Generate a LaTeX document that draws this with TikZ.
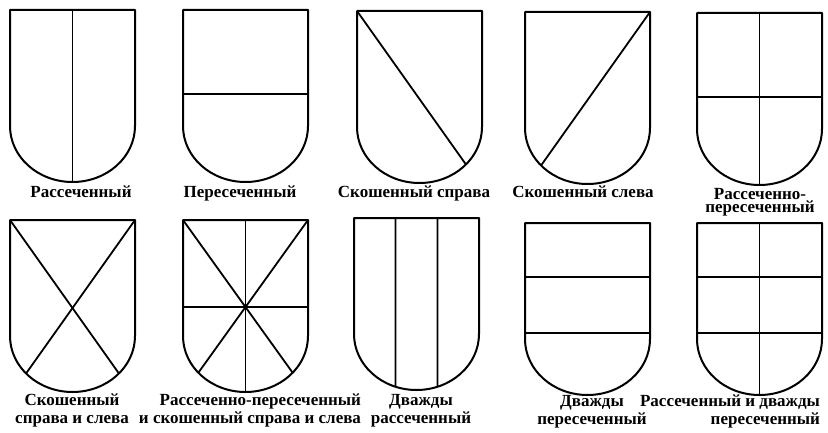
\documentclass[tikz,border=0pt]{standalone}
\usepackage{fontspec}
\setmainfont{Liberation Serif}
\tikzset{
  shield/.style={line width=2pt, line join=round},
  division/.style={line width=1.8pt},
  shieldname/.style={font=\bfseries\fontsize{17}{18}\selectfont, inner sep=0pt, anchor=base},
}
% outline of one shield, top left corner at (0,0)
\newcommand{\shield}{\draw[shield] (0,0) -- (0,-116) arc[start angle=180,end angle=360,x radius=62.5pt,y radius=56pt] -- (125,0) -- cycle;}
\begin{document}
\begin{tikzpicture}[x=1pt,y=1pt]
  \useasboundingbox (0,0) rectangle (828,432);
  % Рассеченный
  \begin{scope}[shift={(10,422)}]
    \shield
    \draw[division] (62.5,0) -- (62.5,-172);
  \end{scope}
  \node[shieldname] (rass) at (81,234) {Рассеченный};
  % Пересеченный
  \begin{scope}[shift={(183,422)}]
    \shield
    \draw[division] (0,-84) -- (125,-84);
  \end{scope}
  \node[shieldname] (peres) at (240,234) {Пересеченный};
  % Скошенный справа
  \begin{scope}[shift={(357,421)}]
    \shield
    \draw[division] (0,0) -- ([shift={(-42:62.5 and 56)}]62.5,-116);
  \end{scope}
  \node[shieldname] (skosh-r) at (414,234) {Скошенный справа};
  % Скошенный слева
  \begin{scope}[shift={(525,420)}]
    \shield
    \draw[division] (125,0) -- ([shift={(-138:62.5 and 56)}]62.5,-116);
  \end{scope}
  \node[shieldname] (skosh-l) at (583,234) {Скошенный слева};
  % Рассеченно-пересеченный
  \begin{scope}[shift={(697,419)}]
    \shield
    \draw[division] (0,-84) -- (125,-84);
    \draw[division] (62.5,0) -- (62.5,-172);
  \end{scope}
  \node[shieldname, align=center] (rass-peres) at (760,220) {Рассеченно-\\[-5pt]пересеченный};

  % Скошенный справа и слева
  \begin{scope}[shift={(10,212)}]
    \shield
    \draw[division] (0,0) -- ([shift={(-42:62.5 and 56)}]62.5,-116);
    \draw[division] (125,0) -- ([shift={(-138:62.5 and 56)}]62.5,-116);
  \end{scope}
  \node[shieldname, align=center] (skosh-rl) at (72,9) {Скошенный\\справа и слева};
  % Рассеченно-пересеченный и скошенный
  \begin{scope}[shift={(183,212)}]
    \shield
    \draw[division] (0,-87) -- (125,-87);
    \draw[division] (62.5,0) -- (62.5,-172);
    \draw[division] (0,0) -- ([shift={(-41:62.5 and 56)}]62.5,-116);
    \draw[division] (125,0) -- ([shift={(-139:62.5 and 56)}]62.5,-116);
  \end{scope}
  \node[shieldname, align=right] (rass-peres-skosh) at (250,9) {Рассеченно-пересеченный\\и скошенный справа и слева};
  % Дважды рассеченный
  \begin{scope}[shift={(354,214)}]
    \shield
    \draw[division] (41.5,0) -- ([shift={(-109.6:62.5 and 56)}]62.5,-116);
    \draw[division] (83.5,0) -- ([shift={(-70.4:62.5 and 56)}]62.5,-116);
  \end{scope}
  \node[shieldname, align=center] (dv-rass) at (421,9) {Дважды\\рассеченный};
  % Дважды пересеченный
  \begin{scope}[shift={(525,209)}]
    \shield
    \draw[division] (0,-54) -- (125,-54);
    \draw[division] (0,-110) -- (125,-110);
  \end{scope}
  \node[shieldname, align=center] (dv-peres) at (592,8) {Дважды\\пересеченный};
  % Рассеченный и дважды пересеченный
  \begin{scope}[shift={(697,209)}]
    \shield
    \draw[division] (0,-54) -- (125,-54);
    \draw[division] (0,-110) -- (125,-110);
    \draw[division] (62.5,0) -- (62.5,-172);
  \end{scope}
  \node[shieldname, align=right] (rass-dv-peres) at (730,8) {Рассеченный и дважды\\пересеченный};
\end{tikzpicture}
\end{document}
